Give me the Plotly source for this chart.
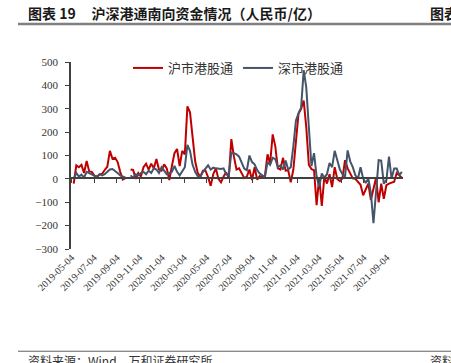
import pandas as pd
import plotly.graph_objects as go

# ---- data ----
start_date = "2019-05-10"
n_weeks = 128
dates = pd.date_range(start_date, periods=n_weeks, freq="7D")

sh_values = [
    -20, 58, 50, 60, 25, 77, 32, 30, 14, 10,
    18, 22, 38, 52, 120, 86, 90, 72, 30, -3,
    3, None, 40, 38, 0, 25, 10, 50, 65, 40,
    65, 45, 85, 40, 35, 62, 45, -5, 55, 110,
    128, 55, 120, 105, 310, 285, 180, 75, 25, 10,
    35, 35, 8, -30, 20, 45, 0, -15, 10, 28,
    5, 170, 95, 40, 45, 20, 3, 10, 40, -5,
    50, -3, 12, 6, 12, 105, 65, 190, 140, 45,
    40, 90, 35, 37, -15, 40, 170, 280, 300, 335,
    220, 60, 42, 37, -112, 8, -116, 10, -20, 20,
    -35, 50, 0, -10, 2, 80, 45, 20, 2, 0,
    -15, -25, -70, -45, -20, -90, -35, 5, -100, -20,
    -85, -27, -20, -15, -12, 25, 15, 5,
]

sz_values = [
    0, 25, 10, 18, 5, 30, 25, 20, 12, 8,
    20, 15, 20, 30, 40, 42, 35, 25, 15, 10,
    5, None, 15, 5, 20, 15, 25, 30, 20, 35,
    25, 45, 40, 25, 50, 35, 20, 25, 30, 55,
    30, 15, 30, 50, 145, 120, 60, 30, 12, 8,
    30, 45, 58, 40, 48, 45, 44, 42, 45, 20,
    15, 112, 110, 105, 95, 72, 44, 37, 100, 72,
    62, 37, 23, 15, 8, 72, 60, 90, 85, 50,
    58, 40, 78, 40, 50, 140, 250, 280, 305, 465,
    390, 220, 55, 110, 10, -34, 23, 5, 20, 68,
    50, 120, 80, 40, 20, 10, 122, 75, 50, 15,
    2, 50, 2, -18, 2, -60, -190, -40, 80, 78,
    -20, -5, 95, 2, 44, 44, 16, 30,
]

series_names = ["沪市港股通", "深市港股通"]
series_colors = ["#C00000", "#44546A"]

tick_dates = [
    "2019-05-04", "2019-07-04", "2019-09-04", "2019-11-04", "2020-01-04",
    "2020-03-04", "2020-05-04", "2020-07-04", "2020-09-04", "2020-11-04",
    "2021-01-04", "2021-03-04", "2021-05-04", "2021-07-04", "2021-09-04",
]
y_ticks = [500, 400, 300, 200, 100, 0, -100, -200, -300]

title_text = "图表 19\u00a0\u00a0\u00a0\u00a0\u00a0沪深港通南向资金情况（人民币/亿）"
source_text = "资料来源：Wind，万和证券研究所"

# ---- layout geometry ----
W, H = 451, 363
L, R, T, B = 71, 48, 62, 113.5
PH = H - T - B
PW = W - L - R


def py(Y):
    return (H - B - Y) / PH


def px(X):
    return (X - L) / PW


x_range = ["2019-05-02 16:00", "2021-10-18"]
axis_col = "#404040"
serif = "Liberation Serif, Times New Roman, serif"
cjk = "Noto Sans CJK SC, sans-serif"

fig = go.Figure()
for vals, name, col in zip([sh_values, sz_values], series_names, series_colors):
    fig.add_trace(go.Scatter(
        x=dates, y=vals, mode="lines", name=name,
        line=dict(color=col, width=2), connectgaps=False,
    ))

fig.update_layout(
    width=W, height=H,
    margin=dict(l=L, r=R, t=T, b=B, pad=0),
    paper_bgcolor="white", plot_bgcolor="white",
    showlegend=True,
    legend=dict(
        orientation="h", x=px(128), y=py(68), xanchor="left", yanchor="middle",
        font=dict(family=cjk, size=13, color="#333333"),
        bgcolor="rgba(0,0,0,0)", itemwidth=30,
    ),
    xaxis=dict(
        type="date", range=x_range, tickvals=tick_dates, ticktext=tick_dates,
        tickangle=-45, showline=False, ticks="", showgrid=False, zeroline=False,
        tickfont=dict(family=serif, size=10, color="#333333"),
    ),
    xaxis2=dict(
        type="date", range=x_range, tickvals=tick_dates, overlaying="x",
        anchor="free", position=py(178.7), showline=True, linecolor=axis_col,
        linewidth=2, ticks="outside", ticklen=4, tickwidth=1, tickcolor=axis_col,
        showticklabels=False, showgrid=False, zeroline=False,
    ),
    yaxis=dict(
        range=[-300, 500], tickvals=y_ticks, showline=True, linecolor=axis_col,
        linewidth=1.5, ticks="outside", ticklen=4, tickcolor=axis_col,
        showgrid=False, zeroline=False, ticklabelstandoff=5,
        tickfont=dict(family=serif, size=11, color="#333333"),
    ),
)

# invisible trace to register xaxis2
fig.add_trace(go.Scatter(x=[dates[0]], y=[None], xaxis="x2", showlegend=False,
                         hoverinfo="skip"))

fig.add_annotation(text=title_text, xref="paper", yref="paper", x=px(26), y=py(13),
                   xanchor="left", yanchor="middle", showarrow=False,
                   font=dict(family=cjk, size=14, color="#1a1a1a", weight="bold"))
fig.add_annotation(text="图表", xref="paper", yref="paper", x=px(428), y=py(13),
                   xanchor="left", yanchor="middle", showarrow=False,
                   font=dict(family=cjk, size=14, color="#1a1a1a", weight="bold"))
fig.add_annotation(text=source_text, xref="paper", yref="paper", x=px(26), y=py(361),
                   xanchor="left", yanchor="middle", showarrow=False,
                   font=dict(family=cjk, size=12, color="#333333"))
fig.add_annotation(text="资料", xref="paper", yref="paper", x=px(428), y=py(361),
                   xanchor="left", yanchor="middle", showarrow=False,
                   font=dict(family=cjk, size=12, color="#333333"))

fig.add_shape(type="line", xref="paper", yref="paper", x0=px(18), x1=px(452),
              y0=py(24), y1=py(24), line=dict(color="#808080", width=2.5))
fig.add_shape(type="line", xref="paper", yref="paper", x0=px(18), x1=px(452),
              y0=py(352), y1=py(352), line=dict(color="#606060", width=1))

fig.write_html("out.html",
               config={"displayModeBar": False},
               post_script="document.body.style.margin='0';document.body.style.overflow='hidden';")
